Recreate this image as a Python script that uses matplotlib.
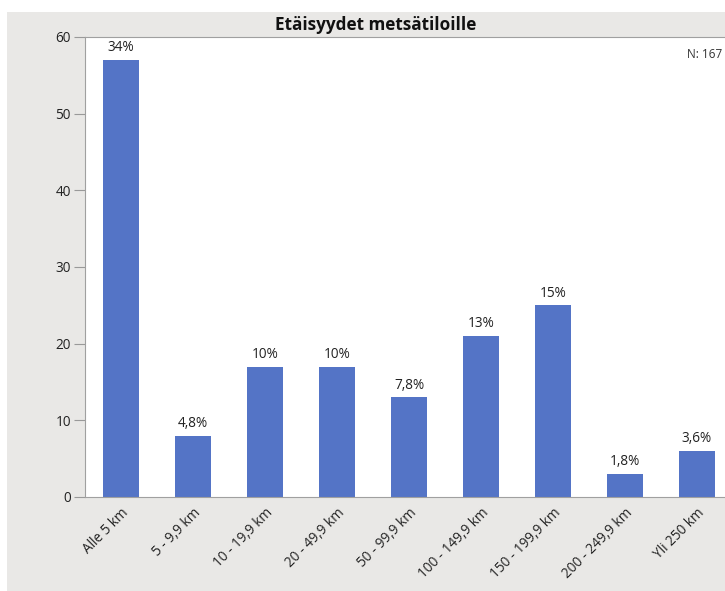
import matplotlib
matplotlib.use('Agg')
import matplotlib.pyplot as plt
from matplotlib.patches import Rectangle

plt.rcParams['font.family'] = ['Open Sans', 'DejaVu Sans']

categories = ['Alle 5 km', '5 - 9,9 km', '10 - 19,9 km', '20 - 49,9 km', '50 - 99,9 km',
              '100 - 149,9 km', '150 - 199,9 km', '200 - 249,9 km', 'Yli 250 km']
counts = [57, 8, 17, 17, 13, 21, 25, 3, 6]
yticks = [0, 10, 20, 30, 40, 50, 60]
title = 'Etäisyydet metsätiloille'

n_total = sum(counts)


def pct_label(c):
    p = 100 * c / n_total
    if p < 10:
        return f'{p:.1f}%'.replace('.', ',')
    return f'{p:.0f}%'


W, H = 725, 591
fig = plt.figure(figsize=(W / 100, H / 100), dpi=100)
fig.patch.set_facecolor('white')

# grey panel behind the chart
fig.patches.append(Rectangle((7 / W, 0), 1, (H - 12) / H, transform=fig.transFigure,
                             facecolor='#e9e8e6', edgecolor='none', zorder=-5))

ax = fig.add_axes([85 / W, (H - 497) / H, 648 / W, 460 / H])
ax.set_zorder(2)
ax.set_facecolor('white')
x = list(range(len(categories)))
ax.bar(x, counts, width=0.5, color='#5474c6', zorder=2)
ax.set_xlim(-0.5, 8.5)
ax.set_ylim(0, 60)
ax.set_yticks(yticks)
ax.set_xticks(x)
ax.set_xticklabels(categories, rotation=45, ha='right', rotation_mode='anchor',
                   fontsize=9.8, color='#222222')
ax.tick_params(axis='y', labelsize=9.8, labelcolor='#222222', color='#999999',
               length=8, direction='out', pad=2)
ax.tick_params(axis='x', length=0, pad=6)
for s in ['left', 'bottom', 'top']:
    ax.spines[s].set_color('#a0a0a0')
ax.spines['right'].set_visible(False)

for xi, c in zip(x, counts):
    ax.text(xi, c + 0.6, pct_label(c), ha='center', va='bottom', fontsize=9.8,
            color='#222222')

fig.text(376 / W, (H - 25) / H, title, ha='center', va='center', fontsize=12.3,
         fontweight='bold', color='#111111')
fig.text(722 / W, (H - 55) / H, f'N: {n_total}', ha='right', va='center', fontsize=8.5,
         color='#333333')

fig.savefig('out.png', dpi=100)
